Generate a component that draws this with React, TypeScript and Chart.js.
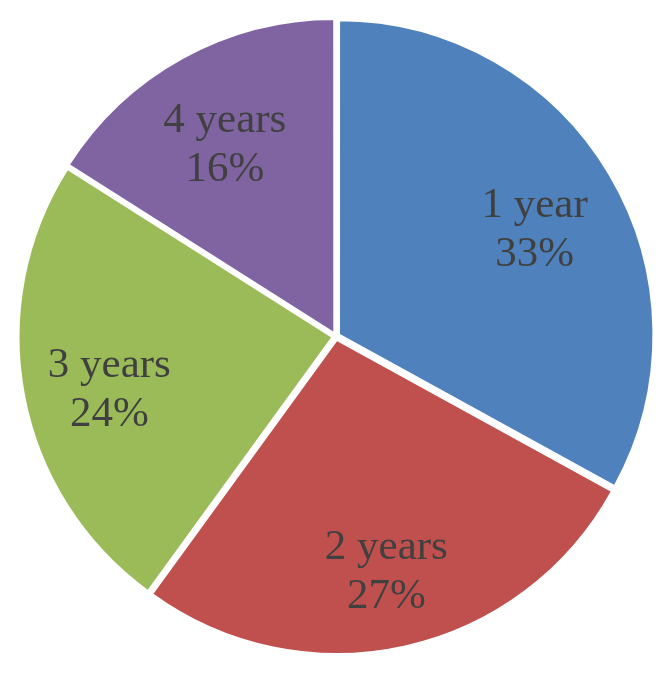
import React, { useEffect, useRef } from "react";
import { Chart, registerables } from "chart.js";

Chart.register(...registerables);

const categories = ["1 year", "2 years", "3 years", "4 years"];
const values = [33, 27, 24, 16];
const percentLabels = ["33%", "27%", "24%", "16%"];
const colors = ["#4F81BD", "#C0504D", "#9BBB59", "#8064A2"];

const labelPlugin = {
  id: "sliceLabels",
  afterDatasetsDraw(chart: any) {
    const ctx = chart.ctx;
    const meta = chart.getDatasetMeta(0);
    ctx.save();
    ctx.font = '43px "Liberation Serif", serif';
    ctx.fillStyle = "#404040";
    ctx.textAlign = "center";
    ctx.textBaseline = "alphabetic";
    meta.data.forEach((arc: any, i: number) => {
      const mid = (arc.startAngle + arc.endAngle) / 2;
      const r = arc.outerRadius * 0.735;
      const x = arc.x + Math.cos(mid) * r;
      const y = arc.y + Math.sin(mid) * r + 8;
      ctx.fillText(categories[i], x, y - 10.5);
      ctx.fillText(percentLabels[i], x, y + 38.5);
    });
    ctx.restore();
  },
};

export default function App() {
  const ref = useRef<HTMLCanvasElement>(null);
  useEffect(() => {
    if (!ref.current) return;
    const chart = new Chart(ref.current, {
      type: "pie",
      data: {
        labels: categories,
        datasets: [
          {
            data: values,
            backgroundColor: colors,
            borderColor: "#ffffff",
            borderWidth: 2,
            offset: 14,
          },
        ],
      },
      options: {
        responsive: false,
        animation: false,
        radius: 314,
        layout: { padding: { top: 0 } },
        plugins: {
          legend: { display: false },
          tooltip: { enabled: false },
        },
      },
      plugins: [labelPlugin],
    });
    return () => chart.destroy();
  }, []);
  return (
    <div style={{ position: "absolute", left: 0, top: 0, width: 672, height: 673, background: "#fff" }}>
      <canvas ref={ref} width={672} height={673} style={{ display: "block" }} />
    </div>
  );
}
